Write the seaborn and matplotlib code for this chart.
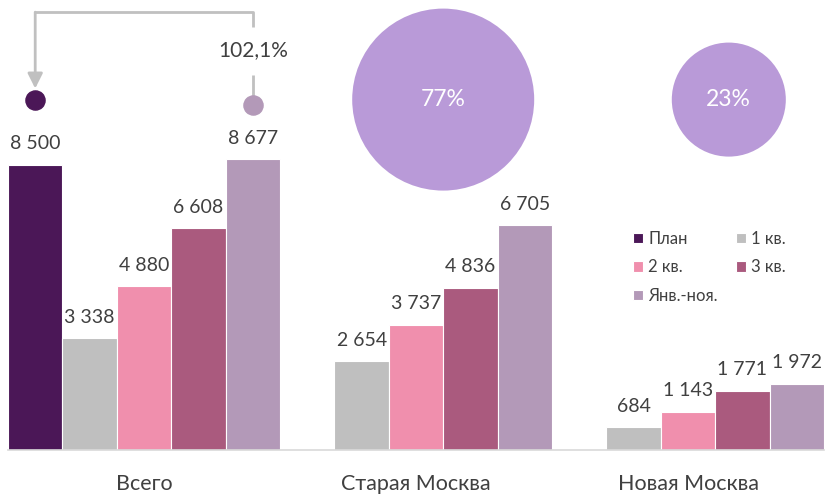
import numpy as np
import matplotlib
matplotlib.use("Agg")
import matplotlib.pyplot as plt
import seaborn as sns
import pandas as pd

# --- data ---
areas = ["Всего", "Старая Москва", "Новая Москва"]
series = ["План", "1 кв.", "2 кв.", "3 кв.", "Янв.-ноя."]
plan = [8500, None, None]
q1 = [3338, 2654, 684]
q2 = [4880, 3737, 1143]
q3 = [6608, 4836, 1771]
jan_nov = [8677, 6705, 1972]
share = [77, 23]          # доля Старой / Новой Москвы, %
share_areas = ["Старая Москва", "Новая Москва"]

colors = ["#4B1757", "#BFBFBF", "#F08FAD", "#AA5A7E", "#B399B8"]
bubble_color = "#B99AD8"
text_color = "#404040"
line_grey = "#C0C0C0"

sns.set_style("white")
plt.rcParams["font.family"] = ["Lato", "DejaVu Sans"]

rows = []
for name, vals in zip(series, [plan, q1, q2, q3, jan_nov]):
    for area, v in zip(areas, vals):
        if v is not None:
            rows.append({"area": area, "series": name, "value": v})
df = pd.DataFrame(rows)

fig = plt.figure(figsize=(8.27, 4.95), dpi=100)
ax = fig.add_axes([8 / 827, 45 / 495, 816 / 827, 450 / 495])

sns.barplot(data=df, x="area", y="value", hue="series", order=areas,
            hue_order=series, palette=colors, saturation=1, width=1.0, gap=0,
            edgecolor="white", linewidth=0.8, ax=ax)

ymax = 13420
ax.set_xlim(-0.5, 2.5)
ax.set_ylim(0, ymax)

# value labels
for cont in ax.containers:
    labels = [f"{b.get_height():,.0f}".replace(",", " ") for b in cont]
    ax.bar_label(cont, labels=labels, padding=9, fontsize=14, color=text_color)

# legend, row-wise order like the original
handles, labs = ax.get_legend_handles_labels()
idx = [0, 2, 4, 1, 3]
ax.legend([handles[i] for i in idx], [labs[i] for i in idx], ncol=2,
          frameon=False, fontsize=12, labelcolor=text_color,
          handlelength=0.6, handleheight=0.6, handletextpad=0.3,
          columnspacing=1.1, labelspacing=0.75,
          loc="upper left", bbox_to_anchor=(0.748, 0.52))

# bar slot offsets from hue order
slot = 1.0 / len(series)
offs = {s: (i - (len(series) - 1) / 2) * slot for i, s in enumerate(series)}

# dots above plan and fact of "Всего"
dot_y = 10450
x_plan = 0 + offs["План"]
x_fact = 0 + offs["Янв.-ноя."]
ax.scatter([x_plan], [dot_y], s=190, color=colors[0], zorder=5, clip_on=False)
ax.scatter([x_fact], [dot_y - 150], s=190, color=colors[4], zorder=5, clip_on=False)

# connector with arrow and percent of plan
top_y = ymax * 0.973
ax.plot([x_fact, x_fact, x_plan], [ymax * 0.94, top_y, top_y],
        color=line_grey, lw=2, solid_capstyle="butt", clip_on=False)
ax.annotate("", xy=(x_plan, dot_y + 330), xytext=(x_plan, top_y),
            arrowprops=dict(arrowstyle="-|>,head_length=0.9,head_width=0.45",
                            color=line_grey, lw=2, shrinkA=0, shrinkB=0))
ax.plot([x_fact, x_fact], [ymax * 0.833, dot_y], color=line_grey, lw=2,
        solid_capstyle="butt")
pct = jan_nov[0] / plan[0] * 100
ax.text(x_fact, ymax * 0.889, f"{pct:.1f}%".replace(".", ","),
        ha="center", va="center", fontsize=15, color=text_color)

# share bubbles
bub = pd.DataFrame({"area": share_areas, "share": share})
bub["x"] = [areas.index(a) for a in share_areas] + np.array([0.1, 0.15])
bub["y"] = dot_y
sns.scatterplot(data=bub, x="x", y="y", size="share", sizes=(6740, 17170),
                color=bubble_color, edgecolor="none", legend=False,
                ax=ax, zorder=4, clip_on=False)
for _, r in bub.iterrows():
    ax.text(r["x"], r["y"], f"{r['share']}%", ha="center", va="center",
            fontsize=16.5, color="white", zorder=6)

# axes styling
for s in ["top", "right", "left"]:
    ax.spines[s].set_visible(False)
ax.spines["bottom"].set_color("#D9D9D9")
ax.spines["bottom"].set_linewidth(1.2)
ax.set_yticks([])
ax.set_xlabel("")
ax.set_ylabel("")
ax.tick_params(axis="x", length=0, pad=17, labelsize=15.5, labelcolor=text_color)

fig.savefig("out.png", dpi=100)
